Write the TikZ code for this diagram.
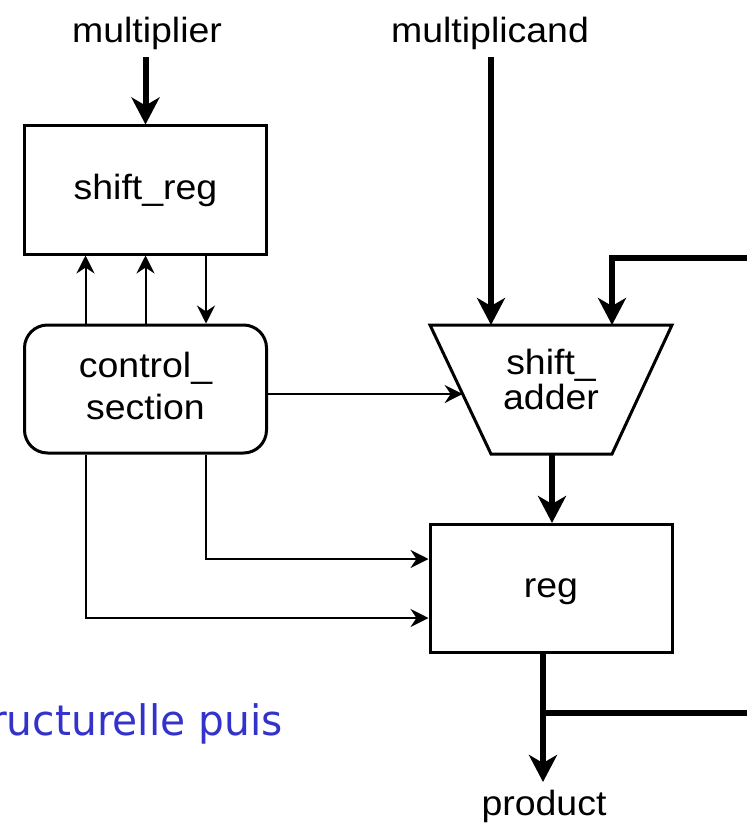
\documentclass[tikz,border=0pt]{standalone}
\usepackage{fontspec}
\setmainfont{Liberation Sans}[FakeStretch=1.07]
\newfontfamily\notefont[FakeStretch=0.97]{DejaVu Sans}
\usetikzlibrary{arrows.meta,calc}
\definecolor{notecolor}{RGB}{51,51,204}

\begin{document}
\begin{tikzpicture}[x=1pt,y=-1pt,
  block/.style={draw,line width=3pt,minimum width=242pt,minimum height=128pt,
    inner sep=0pt,align=center,font=\fontsize{35}{42}\selectfont},
  lbl/.style={inner sep=0pt,anchor=base,font=\fontsize{35}{42}\selectfont},
  bus/.style={line width=6pt,-{Stealth[length=27pt,width=28pt,inset=8pt]}},
  ctl/.style={line width=2pt,-{Stealth[length=18pt,width=18pt,inset=6pt]}},
]
\useasboundingbox (0,0) rectangle (747,824);

% external labels
\node[lbl] (mult)  at (147,43)  {multiplier};
\node[lbl] (mcand) at (490,43)  {multiplicand};
\node[lbl] (prod)  at (544,815) {product};

% blocks
\node[block] (shiftreg) at (145.5,190) {shift\_reg};
\node[block,rounded corners=23pt,text depth=5.5pt] (control) at (145.5,389) {control\_\\section};
\node[block,text height=25.5pt,text depth=8.5pt] (reg) at (551,588.5) {reg};

% shift adder (trapezoid)
\coordinate (tl) at (430,325);
\coordinate (tr) at (672,325);
\coordinate (br) at (612,454);
\coordinate (bl) at (491,454);
\draw[line width=3pt,line join=miter] (tl) -- (tr) -- (br) -- (bl) -- cycle;
\node[inner sep=0pt,align=center,font=\fontsize{35}{35}\selectfont] (adder) at (551,379.75) {shift\_\\adder};
\coordinate (ain1) at (491,325);
\coordinate (ain2) at (612,325);
\coordinate (aout) at (552,454);
\coordinate (actl) at ($(tl)!0.535!(bl)$);

% data paths
\draw[bus] ([yshift=-7pt]mult.south -| shiftreg.north) -- (shiftreg.north);
\draw[bus] ([yshift=-7pt]mcand.south -| ain1) -- (ain1);
\coordinate (fbin) at (747,258);
\draw[bus] (fbin) -| (ain2);
\draw[bus] (aout) -- (aout |- reg.north);
\coordinate (pout) at (543,782);
\coordinate (fbout) at (747,713);
\draw[bus] ([xshift=-8pt]reg.south) -- (pout);
\draw[line width=6pt] (pout |- fbout) -- (fbout);

% control paths
\draw[ctl] ([xshift=-60pt]control.north) -- ([xshift=-60pt]shiftreg.south);
\draw[ctl] (control.north) -- (shiftreg.south);
\draw[ctl] ([xshift=60.5pt]shiftreg.south) -- ([xshift=60.5pt]control.north);
\draw[ctl] (control.east |- actl) -- (actl);
\draw[ctl] ([xshift=60.5pt]control.south) |- ([yshift=29.5pt]reg.west);
\draw[ctl] ([xshift=-60pt]control.south) |- ([yshift=-29.5pt]reg.west);

% note text
\node[inner sep=0pt,anchor=base east,text=notecolor,font=\notefont\fontsize{42}{48}\selectfont] (note) at (283,735) {ructurelle puis};
\end{tikzpicture}
\end{document}
